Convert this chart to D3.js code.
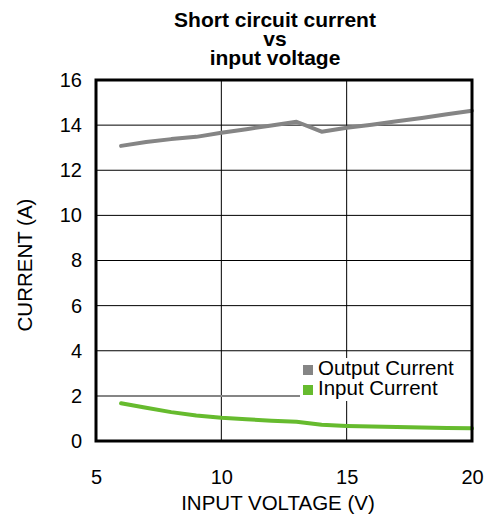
<!DOCTYPE html>
<html>
<head>
<meta charset="utf-8">
<script src="https://cdn.jsdelivr.net/npm/d3@7"></script>
<style>
  html, body { margin: 0; padding: 0; background: #fff; }
  svg { display: block; font-family: "Liberation Sans", Arial, sans-serif; }
</style>
</head>
<body>
<svg id="chart" width="491" height="517"></svg>
<script>
// Input voltage (V)
const voltage = [6, 7, 8, 9, 10, 11, 12, 13, 14, 15, 16, 17, 18, 19, 20];
// Short circuit output current (A)
const outputCurrent = [13.08, 13.25, 13.38, 13.48, 13.66, 13.82, 13.98, 14.15, 13.71, 13.88, 14.02, 14.17, 14.32, 14.48, 14.64];
// Input current (A)
const inputCurrent = [1.67, 1.47, 1.28, 1.13, 1.03, 0.96, 0.90, 0.85, 0.72, 0.67, 0.64, 0.62, 0.60, 0.58, 0.56];

const xTicks = [5, 10, 15, 20];
const yTicks = [0, 2, 4, 6, 8, 10, 12, 14, 16];
const titleLines = ["Short circuit current", "vs", "input voltage"];
const seriesNames = ["Output Current", "Input Current"];
const seriesColors = ["#858585", "#66bb2e"];

const svg = d3.select("#chart");
const plot = { left: 96, right: 472, top: 80, bottom: 441 };

const x = d3.scaleLinear().domain([5, 20]).range([plot.left, plot.right]);
const y = d3.scaleLinear().domain([0, 16]).range([plot.bottom, plot.top]);

// Title
svg.append("g").selectAll("text").data(titleLines).join("text")
  .attr("x", 275).attr("y", (d, i) => 27 + i * 19)
  .attr("text-anchor", "middle")
  .attr("font-size", 21).attr("font-weight", "bold")
  .text(d => d);

// Grid
const grid = svg.append("g");
grid.selectAll("line.v").data(xTicks.filter(t => t > 5 && t < 20)).join("line")
  .attr("class", "v")
  .attr("x1", d => x(d)).attr("x2", d => x(d))
  .attr("y1", plot.top).attr("y2", plot.bottom)
  .attr("stroke", "#000").attr("stroke-width", 1);
grid.selectAll("line.h").data(yTicks.filter(t => t > 2 && t < 16)).join("line")
  .attr("class", "h")
  .attr("x1", plot.left).attr("x2", plot.right)
  .attr("y1", d => y(d)).attr("y2", d => y(d))
  .attr("stroke", "#000").attr("stroke-width", 1);
// the gridline at 2 A is drawn grey and runs up to the legend
grid.append("line")
  .attr("x1", plot.left).attr("x2", 300)
  .attr("y1", y(2)).attr("y2", y(2))
  .attr("stroke", "#858585").attr("stroke-width", 2);

// Legend (white box hides the grid behind it)
const legend = svg.append("g");
legend.append("rect")
  .attr("x", 300).attr("y", 358).attr("width", 160).attr("height", 43)
  .attr("fill", "#fff");
seriesNames.forEach((name, i) => {
  const ly = 370 + i * 20;
  legend.append("rect")
    .attr("x", 303).attr("y", ly - 5).attr("width", 10).attr("height", 10)
    .attr("fill", seriesColors[i]);
  legend.append("text")
    .attr("x", 318).attr("y", ly + 5)
    .attr("font-size", 20.5)
    .text(name);
});

// Series lines
const line = d3.line().x(d => x(d[0])).y(d => y(d[1]));
[outputCurrent, inputCurrent].forEach((vals, i) => {
  svg.append("path")
    .datum(voltage.map((v, j) => [v, vals[j]]))
    .attr("d", line)
    .attr("fill", "none")
    .attr("stroke", seriesColors[i])
    .attr("stroke-width", 4)
    .attr("stroke-linejoin", "round")
    .attr("stroke-linecap", "round");
});

// Frame
svg.append("rect")
  .attr("x", plot.left).attr("y", plot.top)
  .attr("width", plot.right - plot.left).attr("height", plot.bottom - plot.top)
  .attr("fill", "none").attr("stroke", "#000").attr("stroke-width", 3);

// Axes
const xAxis = svg.append("g")
  .attr("transform", `translate(0,${plot.bottom})`)
  .call(d3.axisBottom(x).tickValues(xTicks).tickSize(0).tickPadding(29));
xAxis.select(".domain").remove();
xAxis.selectAll("text").attr("font-size", 20).attr("fill", "#000")
  .attr("font-family", "Liberation Sans, Arial, sans-serif");

const yAxis = svg.append("g")
  .attr("transform", `translate(${plot.left},0)`)
  .call(d3.axisLeft(y).tickValues(yTicks).tickSize(0).tickPadding(14));
yAxis.select(".domain").remove();
yAxis.selectAll("text").attr("font-size", 20).attr("fill", "#000")
  .attr("font-family", "Liberation Sans, Arial, sans-serif");

// Axis titles
svg.append("text")
  .attr("x", 278).attr("y", 510)
  .attr("text-anchor", "middle").attr("font-size", 20.5)
  .text("INPUT VOLTAGE (V)");
svg.append("text")
  .attr("transform", "translate(25,265) rotate(-90)")
  .attr("text-anchor", "middle").attr("dy", "0.35em").attr("font-size", 20.5)
  .text("CURRENT (A)");
</script>
</body>
</html>
